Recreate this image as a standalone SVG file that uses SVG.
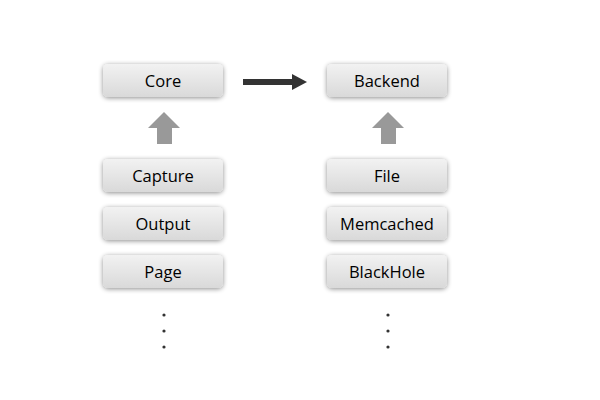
<svg xmlns="http://www.w3.org/2000/svg" width="600" height="400" viewBox="0 0 600 400">
<defs>
<linearGradient id="g" x1="0" y1="0" x2="0" y2="1">
<stop offset="0" stop-color="#f2f2f2"/>
<stop offset="1" stop-color="#d9d9d9"/>
</linearGradient>
<filter id="sh" x="-20%" y="-50%" width="140%" height="200%">
<feGaussianBlur in="SourceAlpha" stdDeviation="2.5"/>
<feOffset dx="0" dy="1" result="b"/>
<feComponentTransfer><feFuncA type="linear" slope="0.45"/></feComponentTransfer>
<feMerge><feMergeNode/><feMergeNode in="SourceGraphic"/></feMerge>
</filter>
</defs>
<style>
.box{fill:url(#g);filter:url(#sh)}
.t{font-family:"Open Sans","Noto Sans",sans-serif;font-size:16.5px;fill:#000;text-anchor:middle}
.dot{fill:#333}
</style>
<rect width="600" height="400" fill="#fff"/>
<g id="core"><rect class="box" x="103" y="64" width="120" height="33" rx="5"/><text class="t" x="163" y="87">Core</text></g>
<g id="capture"><rect class="box" x="103" y="159" width="120" height="33" rx="5"/><text class="t" x="163" y="182">Capture</text></g>
<g id="output"><rect class="box" x="103" y="207" width="120" height="33" rx="5"/><text class="t" x="163" y="230">Output</text></g>
<g id="page"><rect class="box" x="103" y="255" width="120" height="33" rx="5"/><text class="t" x="163" y="278">Page</text></g>
<g id="backend"><rect class="box" x="327" y="64" width="120" height="33" rx="5"/><text class="t" x="387" y="87">Backend</text></g>
<g id="file"><rect class="box" x="327" y="159" width="120" height="33" rx="5"/><text class="t" x="387" y="182">File</text></g>
<g id="memcached"><rect class="box" x="327" y="207" width="120" height="33" rx="5"/><text class="t" x="387" y="230">Memcached</text></g>
<g id="blackhole"><rect class="box" x="327" y="255" width="120" height="33" rx="5"/><text class="t" x="387" y="278">BlackHole</text></g>
<g id="connectors">
<path d="M243 79H292V74L307 82L292 90V85H243Z" fill="#333"/>
<path d="M164 112L180 128H172V144H157V128H148Z" fill="#999"/>
<path d="M388 112L404 128H396V144H381V128H372Z" fill="#999"/>
</g>
<g id="dots">
<circle class="dot" cx="164" cy="315" r="1.6"/><circle class="dot" cx="164" cy="331" r="1.6"/><circle class="dot" cx="164" cy="347" r="1.6"/>
<circle class="dot" cx="388" cy="315" r="1.6"/><circle class="dot" cx="388" cy="331" r="1.6"/><circle class="dot" cx="388" cy="347" r="1.6"/>
</g>
</svg>
